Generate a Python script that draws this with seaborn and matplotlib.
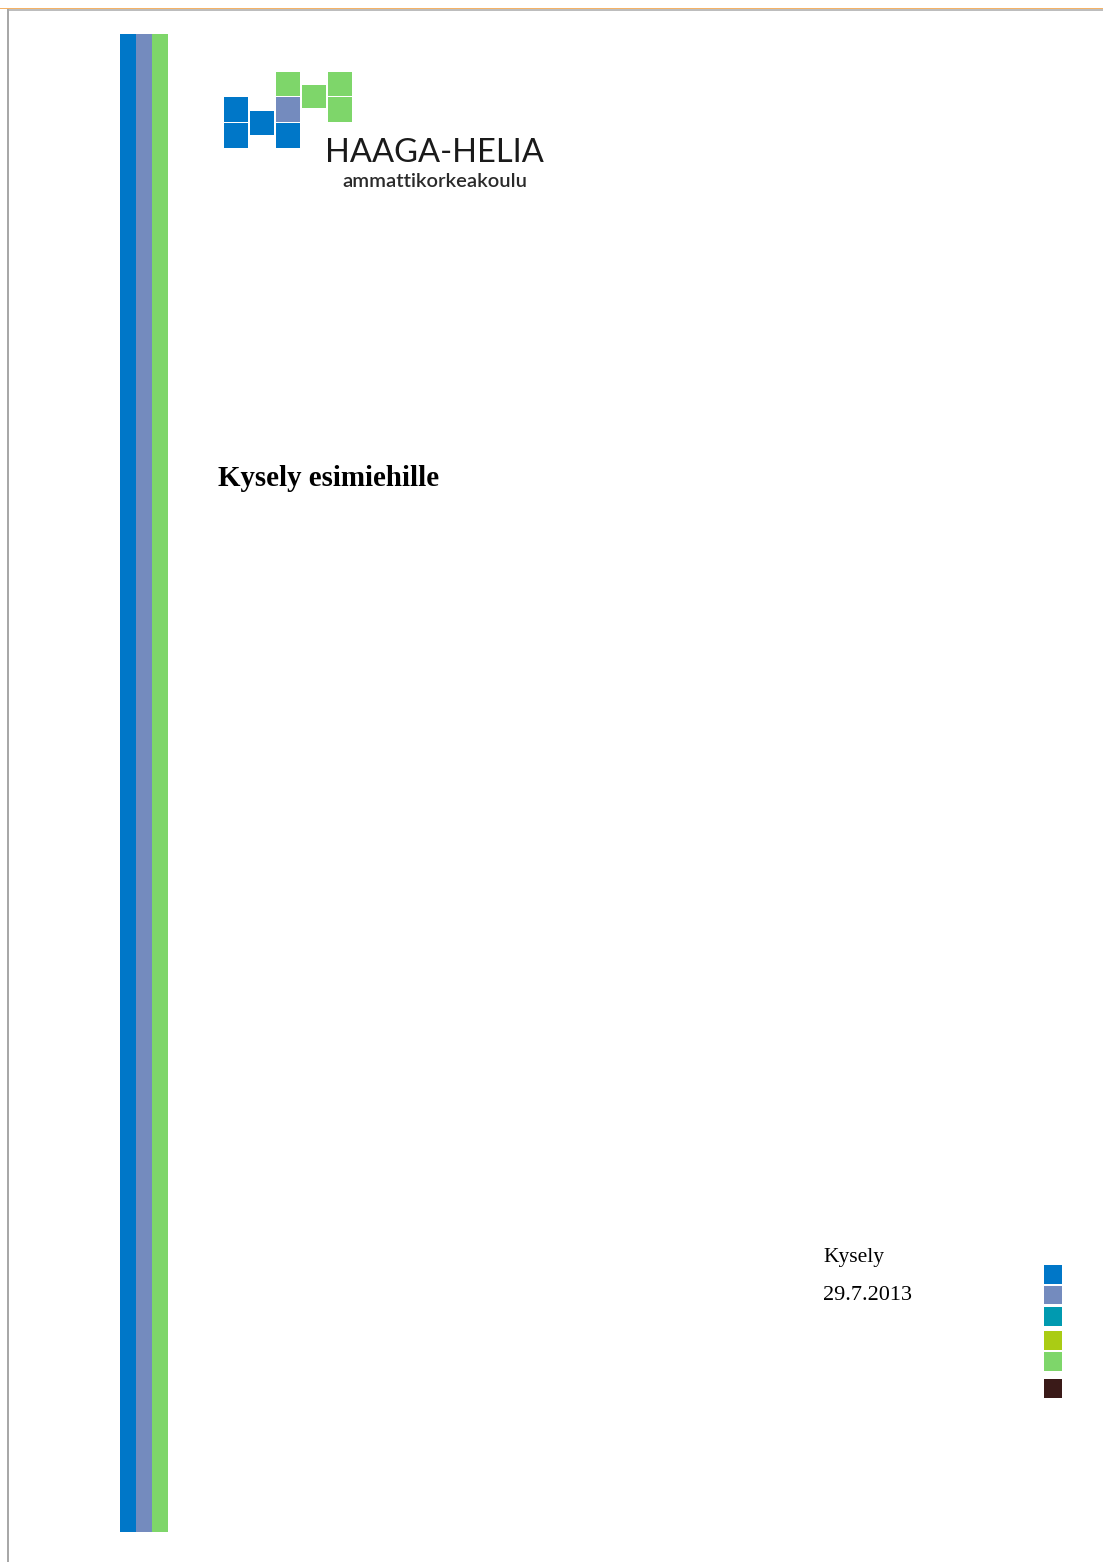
import matplotlib
matplotlib.use("Agg")
import matplotlib.pyplot as plt
import seaborn as sns
from matplotlib.patches import Rectangle

# Cover page content
stripe_colors = ["#0077C8", "#748BBE", "#7ED66A"]
logo_colors = ["#0077C8", "#0077C8", "#0077C8", "#7ED66A", "#748BBE",
               "#0077C8", "#7ED66A", "#7ED66A", "#7ED66A"]
marker_colors = ["#0077C8", "#748BBE", "#009AB0", "#AACC14", "#7ED66A", "#3A1A18"]
brand_name = "HAAGA-HELIA"
brand_sub = "ammattikorkeakoulu"
title_text = "Kysely esimiehille"
doc_type = "Kysely"
doc_date = "29.7.2013"

sns.set_style("white")

W, H = 1103, 1562
fig = plt.figure(figsize=(W / 100, H / 100), dpi=100)
ax = fig.add_axes([0, 0, 1, 1])
ax.set_xlim(0, W)
ax.set_ylim(H, 0)
ax.axis("off")

# page frame: orange top rule, grey shadow, grey left border
ax.add_patch(Rectangle((0, 7.5), W, 1.8, color="#F4B266", lw=0))
ax.add_patch(Rectangle((7, 9.3), W - 7, 1.6, color="#BDBDBD", lw=0))
ax.add_patch(Rectangle((7, 9.3), 1.8, H, color="#A8A8A8", lw=0))

# vertical stripes on the left
stripe_x = [119.5, 135.7, 152.2]
stripe_w = [16.2, 16.5, 15.6]
for x, w, c in zip(stripe_x, stripe_w, stripe_colors):
    ax.add_patch(Rectangle((x, 33.5), w, 1498, color=c, lw=0))

# logo squares (x, y, w, h)
logo_boxes = [(223.5, 97, 24.5, 24.5), (223.5, 123, 24.5, 24.5),
              (250, 110.5, 24, 24), (276, 72, 23.5, 24), (276, 97, 23.5, 24.5),
              (276, 123, 23.5, 24.5), (302, 84.5, 23.5, 23.5),
              (328, 72, 23.5, 24), (328, 97, 23.5, 24.5)]
for (x, y, w, h), c in zip(logo_boxes, logo_colors):
    ax.add_patch(Rectangle((x, y), w, h, color=c, lw=0))

ax.text(325, 161.5, brand_name, fontsize=23.5, family="Lato", color="#1a1a1a",
        ha="left", va="baseline")
ax.text(342, 187, brand_sub, fontsize=14.5, family="Lato", weight="semibold",
        color="#2a2a2a", ha="left", va="baseline")

ax.text(218, 486.5, title_text, fontsize=20.8, family="Liberation Serif",
        weight="bold", color="black", ha="left", va="baseline")

ax.text(823, 1262, doc_type, fontsize=15.5, family="Liberation Serif",
        color="black", ha="left", va="baseline")
ax.text(823, 1299.5, doc_date, fontsize=16, family="Liberation Serif",
        color="black", ha="left", va="baseline")

# colour markers at the bottom right
marker_y = [1265, 1285.5, 1307, 1331, 1352, 1379]
for y, c in zip(marker_y, marker_colors):
    ax.add_patch(Rectangle((1043.5, y), 18.5, 18.5, color=c, lw=0))

fig.savefig("out.png", dpi=100, facecolor="white")
